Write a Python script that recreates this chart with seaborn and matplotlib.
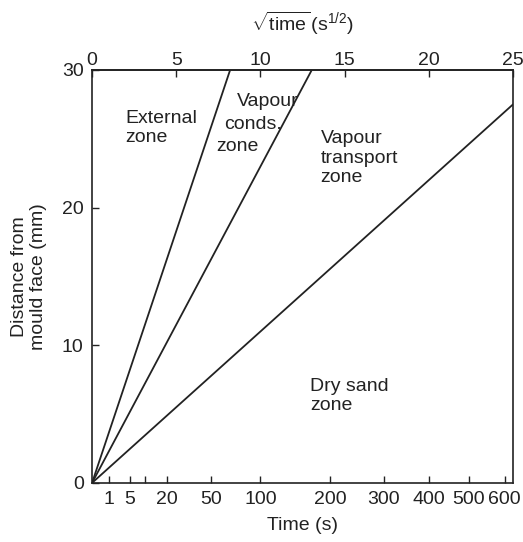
import numpy as np
import pandas as pd
import seaborn as sns
import matplotlib
matplotlib.use('Agg')
import matplotlib.pyplot as plt

# zone boundaries: straight lines from the origin in (sqrt(time), distance)
boundary = ['external', 'conds', 'transport']
sqrt_t_end = [8.2, 13.05, 25.0]
dist_end = [30.0, 30.0, 27.5]

# bottom axis: time ticks (s), drawn at sqrt(time)
time_ticks = [1, 5, 10, 20, 50, 100, 200, 300, 400, 500, 600]
time_labels = ['1', '5', '', '20', '50', '100', '200', '300', '400', '500', '600']
# top axis: sqrt(time)
sqrt_ticks = [0, 5, 10, 15, 20, 25]
dist_ticks = [0, 10, 20, 30]

sns.set_theme(style='ticks')
plt.rcParams['font.family'] = ['Liberation Sans', 'DejaVu Sans']
plt.rcParams['mathtext.fontset'] = 'custom'
plt.rcParams['mathtext.rm'] = 'Liberation Sans'
plt.rcParams['mathtext.it'] = 'Liberation Sans:italic'

ink = '#222222'
fs = 14

rows = []
for b, x1, y1 in zip(boundary, sqrt_t_end, dist_end):
    rows.append({'zone': b, 'sqrt_t': 0.0, 'dist': 0.0})
    rows.append({'zone': b, 'sqrt_t': x1, 'dist': y1})
df = pd.DataFrame(rows)

fig = plt.figure(figsize=(5.23, 5.42), dpi=100)
ax = fig.add_axes([0.176, 0.109, 0.805, 0.762])

sns.lineplot(data=df, x='sqrt_t', y='dist', units='zone', estimator=None,
             color=ink, linewidth=1.3, ax=ax, legend=False)

ax.set_xlim(0, 25)
ax.set_ylim(0, 30)

ax.set_xticks(np.sqrt(time_ticks))
ax.set_xticklabels(time_labels)
ax.set_yticks(dist_ticks)
ax.tick_params(axis='both', direction='in', length=5, width=1, color=ink,
               labelsize=fs, labelcolor=ink, pad=6)
ax.set_xlabel('Time (s)', fontsize=fs, color=ink, labelpad=6)
ax.set_ylabel('Distance from\nmould face (mm)', fontsize=fs, color=ink,
              labelpad=11, linespacing=1.15)

top = ax.secondary_xaxis('top')
top.set_xticks(sqrt_ticks)
top.tick_params(direction='in', length=5, width=1, color=ink, labelsize=fs,
                labelcolor=ink, pad=1)
top.set_xlabel(r'$\sqrt{\mathrm{time}}\,(\mathrm{s}^{1/2})$', fontsize=fs,
               color=ink, labelpad=15)
top.spines['top'].set_color(ink)

for s in ax.spines.values():
    s.set_color(ink)
    s.set_linewidth(1.2)

kw = dict(fontsize=fs, color=ink, ha='left', va='center', linespacing=1.18)
ax.text(1.96, 25.8, 'External\nzone', **kw)
ax.text(8.6, 27.67, 'Vapour', **kw)
ax.text(7.85, 26.0, 'conds.', **kw)
ax.text(7.4, 24.47, 'zone', **kw)
ax.text(13.58, 23.6, 'Vapour\ntransport\nzone', **kw)
ax.text(12.95, 6.3, 'Dry sand\nzone', **kw)

fig.savefig('out.png', dpi=100)
